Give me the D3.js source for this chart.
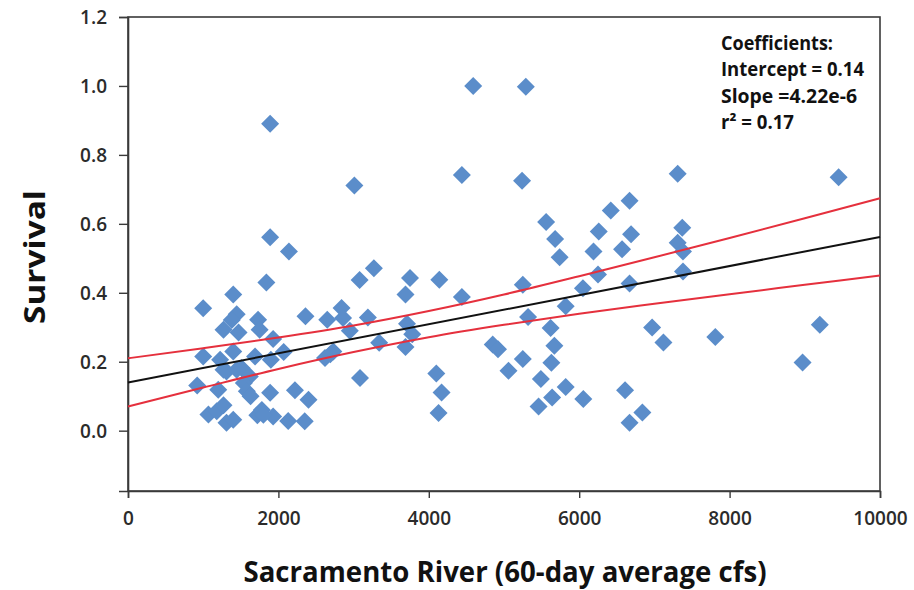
<!DOCTYPE html>
<html>
<head>
<meta charset="utf-8">
<script src="https://cdn.jsdelivr.net/npm/d3@7"></script>
<style>
  html, body { margin: 0; padding: 0; background: #fff; }
  svg { display: block; }
  text { font-family: "Open Sans", "DejaVu Sans", sans-serif; }
</style>
</head>
<body>
<svg id="chart" width="914" height="590"></svg>
<script>
// Flow (60-day average cfs) and survival for each release group
const flowCfs = [
  1890, 3010, 4440, 4590, 5290, 5240, 7310, 9450, 1890, 2140,
  1840, 1400, 1000, 3080, 3270, 3750, 3690, 4140, 4440, 5250,
  6670, 6420, 5560, 5680, 5740, 6260, 6690, 6190, 6570, 7370,
  7310, 7380, 7380, 6250, 6670, 6050, 5820, 5320, 5620, 5670,
  5250, 5630, 5490, 5820, 6055, 5460, 5640, 6610, 6840, 6670,
  6970, 7120, 7810, 8970, 9200, 5060, 4850, 4920, 4100, 4170,
  4130, 3085, 3710, 3780, 3690, 3340, 3190, 2840, 2860, 2950,
  2730, 2620, 2650, 2360, 2070, 1930, 1900, 1730, 1750, 1445,
  1380, 1270, 1470, 1000, 1225, 1400, 1690, 1270, 1510, 1620,
  1540, 920, 1200, 1580, 1630, 1890, 2220, 2400, 1070, 1180,
  1270, 1310, 1400, 1720, 1780, 1930, 2130, 2350, 2690, 1310,
  1445, 1800
];
const survival = [
  0.890, 0.711, 0.742, 1.000, 0.998, 0.725, 0.745, 0.735, 0.561, 0.520,
  0.430, 0.395, 0.355, 0.437, 0.471, 0.443, 0.395, 0.438, 0.388, 0.423,
  0.667, 0.639, 0.605, 0.556, 0.503, 0.578, 0.570, 0.520, 0.526, 0.589,
  0.545, 0.520, 0.462, 0.453, 0.427, 0.413, 0.361, 0.330, 0.298, 0.246,
  0.208, 0.197, 0.150, 0.127, 0.092, 0.070, 0.096, 0.117, 0.053, 0.023,
  0.299, 0.256, 0.272, 0.198, 0.307, 0.174, 0.250, 0.236, 0.166, 0.111,
  0.051, 0.153, 0.310, 0.280, 0.243, 0.255, 0.328, 0.356, 0.327, 0.290,
  0.230, 0.211, 0.322, 0.332, 0.228, 0.266, 0.206, 0.322, 0.293, 0.338,
  0.321, 0.293, 0.285, 0.215, 0.206, 0.230, 0.215, 0.177, 0.182, 0.157,
  0.138, 0.131, 0.119, 0.114, 0.100, 0.110, 0.117, 0.090, 0.047, 0.056,
  0.074, 0.023, 0.032, 0.045, 0.060, 0.041, 0.028, 0.027, 0.222, 0.172,
  0.177, 0.046
];

// Fitted regression line (end points)
const fitFlow = [0, 10000];
const fitSurvival = [0.14, 0.562];

// 95% confidence band around the fit
const bandFlow  = [0, 1000, 2000, 3000, 4000, 5000, 6000, 7000, 8000, 9000, 10000];
const bandUpper = [0.210, 0.239, 0.270, 0.305, 0.347, 0.395, 0.448, 0.503, 0.559, 0.616, 0.674];
const bandLower = [0.070, 0.125, 0.179, 0.228, 0.271, 0.307, 0.339, 0.368, 0.396, 0.423, 0.450];

const xTicks = [0, 2000, 4000, 6000, 8000, 10000];
const yTicks = [0.0, 0.2, 0.4, 0.6, 0.8, 1.0, 1.2];

const coefficientLines = [
  "Coefficients:",
  "Intercept = 0.14",
  "Slope =4.22e-6",
  "r\u00B2 = 0.17"
];

const xTitle = "Sacramento River (60-day average cfs)";
const yTitle = "Survival";

const margin = { left: 128, right: 34, top: 17, bottom: 99 };
const width = 914, height = 590;

const svg = d3.select("#chart");

const x = d3.scaleLinear().domain([0, 10000]).range([margin.left, width - margin.right]);
const y = d3.scaleLinear().domain([-0.175, 1.2]).range([height - margin.bottom, margin.top]);

const axisColor = "#3a3a3a";
const tickFont = "600 19px 'Open Sans', sans-serif";

// Plot frame
svg.append("rect")
  .attr("x", x(0)).attr("y", y(1.2))
  .attr("width", x(10000) - x(0)).attr("height", y(-0.175) - y(1.2))
  .attr("fill", "none").attr("stroke", axisColor).attr("stroke-width", 1.6);

// Y axis
const yAxis = svg.append("g")
  .attr("transform", `translate(${x(0)},0)`)
  .call(d3.axisLeft(y).tickValues(yTicks).tickFormat(d3.format(".1f")).tickSize(9).tickPadding(12));
yAxis.select(".domain").attr("stroke", axisColor).attr("stroke-width", 1.6);
yAxis.selectAll(".tick line").attr("stroke", axisColor).attr("stroke-width", 1.4);
yAxis.selectAll(".tick text")
  .style("font", tickFont).attr("fill", "#2b2b2b").attr("dy", "0.34em");

// X axis
const xAxis = svg.append("g")
  .attr("transform", `translate(0,${y(-0.175)})`)
  .call(d3.axisBottom(x).tickValues(xTicks).tickFormat(d3.format("d")).tickSize(7).tickPadding(14));
xAxis.select(".domain").attr("stroke", axisColor).attr("stroke-width", 1.6);
xAxis.selectAll(".tick line").attr("stroke", axisColor).attr("stroke-width", 1.4);
xAxis.selectAll(".tick text")
  .style("font", tickFont).attr("fill", "#2b2b2b");

// Points
const diamond = "M0,-9L9,0L0,9L-9,0Z";
svg.append("g")
  .selectAll("path")
  .data(d3.range(flowCfs.length))
  .join("path")
  .attr("d", diamond)
  .attr("transform", i => `translate(${x(flowCfs[i])},${y(survival[i])})`)
  .attr("fill", "#5b8dca");

// Confidence band lines
const bandLine = vals => d3.line()
  .x((d, i) => x(bandFlow[i]))
  .y((d, i) => y(vals[i]))
  .curve(d3.curveMonotoneX)(vals);

svg.append("path").attr("d", bandLine(bandUpper))
  .attr("fill", "none").attr("stroke", "#e5303d").attr("stroke-width", 2);
svg.append("path").attr("d", bandLine(bandLower))
  .attr("fill", "none").attr("stroke", "#e5303d").attr("stroke-width", 2);

// Regression line
svg.append("line")
  .attr("x1", x(fitFlow[0])).attr("y1", y(fitSurvival[0]))
  .attr("x2", x(fitFlow[1])).attr("y2", y(fitSurvival[1]))
  .attr("stroke", "#111").attr("stroke-width", 2);

// Coefficients block
const coefWidths = [112, 143, 136, 73];
const coefBaselines = [50, 76, 102.5, 129];
const coef = svg.append("g").attr("transform", "translate(721,0)");
coefficientLines.forEach((t, i) => {
  coef.append("text")
    .attr("x", 0).attr("y", coefBaselines[i])
    .attr("textLength", coefWidths[i]).attr("lengthAdjust", "spacingAndGlyphs")
    .style("font", "700 19px 'Open Sans', sans-serif")
    .attr("fill", "#111")
    .text(t);
});

// Axis titles
svg.append("text")
  .attr("x", 505).attr("y", 582)
  .attr("text-anchor", "middle")
  .attr("textLength", 523).attr("lengthAdjust", "spacingAndGlyphs")
  .style("font", "700 29px 'Open Sans', sans-serif")
  .attr("fill", "#111")
  .text(xTitle);

svg.append("text")
  .attr("transform", "translate(45,257) rotate(-90)")
  .attr("text-anchor", "middle")
  .attr("textLength", 134).attr("lengthAdjust", "spacingAndGlyphs")
  .style("font", "700 29px 'Open Sans', sans-serif")
  .attr("fill", "#111")
  .text(yTitle);
</script>
</body>
</html>
